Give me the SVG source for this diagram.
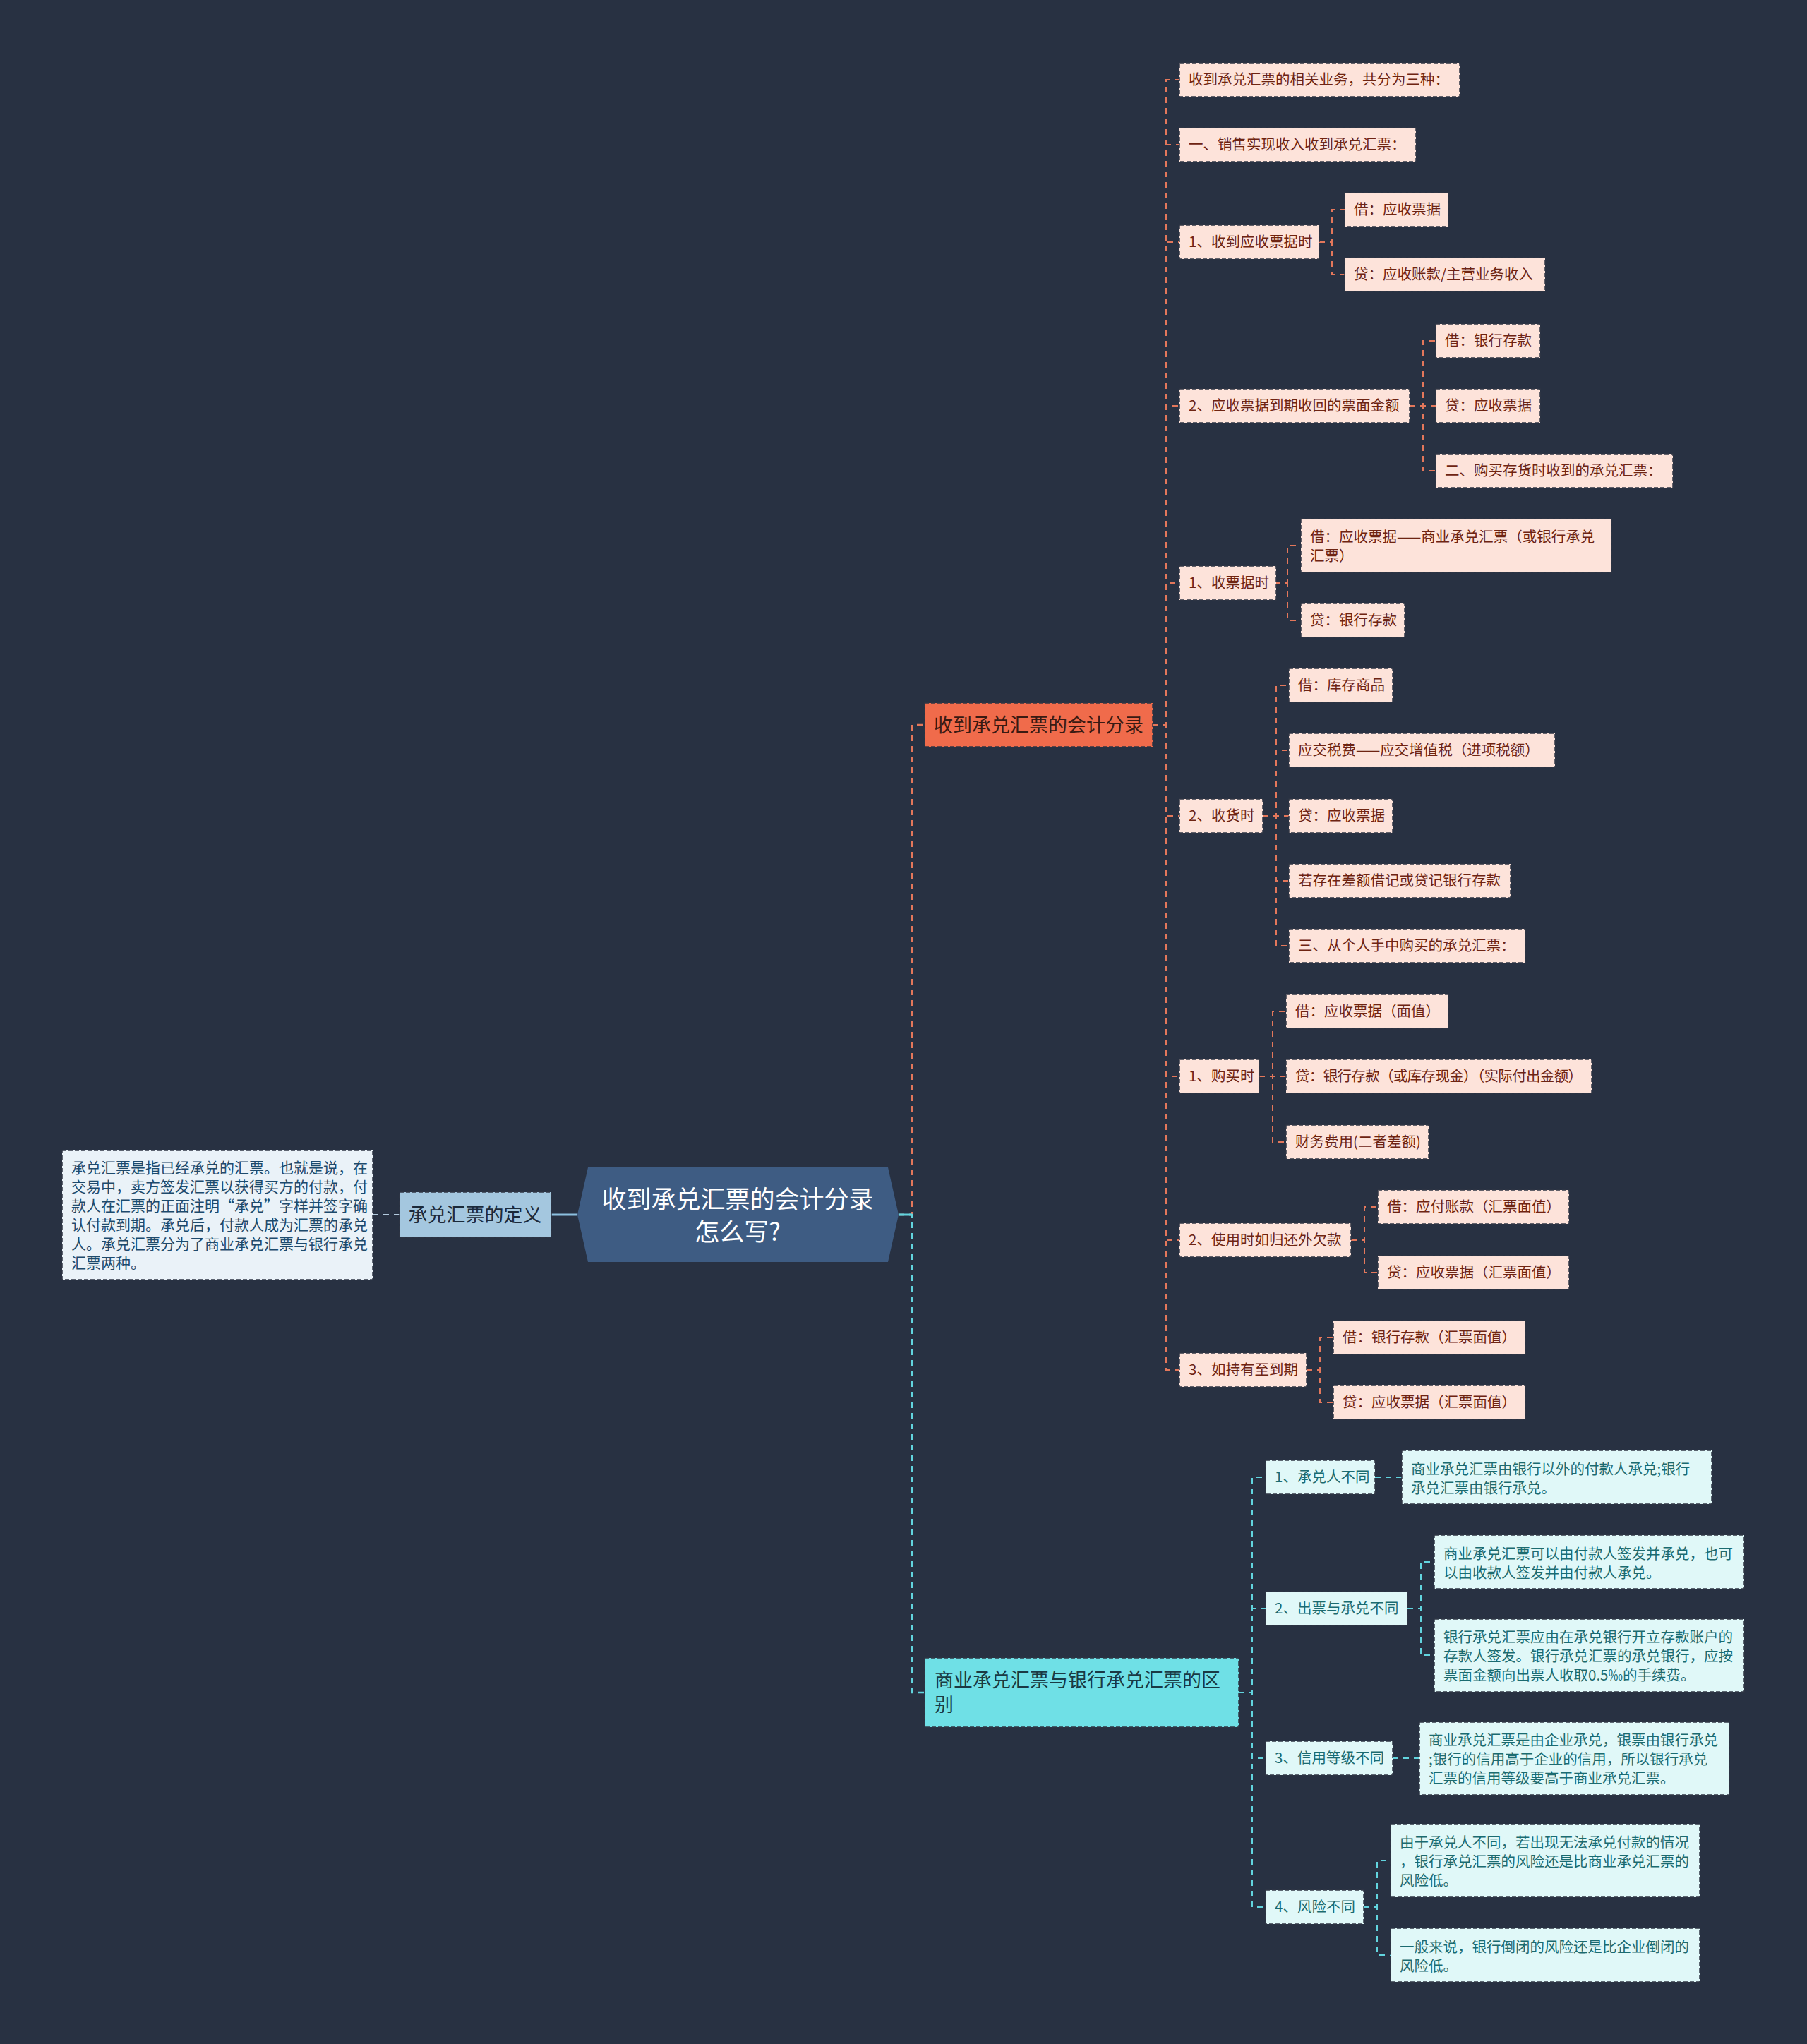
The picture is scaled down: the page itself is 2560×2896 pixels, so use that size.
<svg xmlns="http://www.w3.org/2000/svg" width="2560" height="2896" viewBox="0 0 2560 2896">
<style>
text{font-family:"Noto Sans CJK SC","Noto Sans",sans-serif;}
.bd{stroke:#2f3644;stroke-width:1.5;stroke-dasharray:6 3;}
.na{fill:#fde3da;}
.ta{fill:#6e2412;font-size:20.5px;}
.nb{fill:#e0f8f8;}
.tb{fill:#1b6b70;font-size:20.5px;}
.ca{fill:none;stroke:#e3775b;stroke-width:2;stroke-dasharray:8 7;}
.cb{fill:none;stroke:#62d4de;stroke-width:2;stroke-dasharray:8 7;}
</style>
<rect x="0" y="0" width="2560" height="2896" fill="#283142"/>
<g id="connectors">
<path d="M528,1721 H566" fill="none" stroke="#b3cadd" stroke-width="2" stroke-dasharray="8 7"/>
<path d="M781,1721 H818" fill="none" stroke="#8cc0df" stroke-width="3"/>
<path d="M1273,1721 H1292 V1027 H1310" class="ca" style="stroke-width:2.5"/>
<path d="M1273,1721 H1292 V2398 H1310" class="cb" style="stroke-width:2.5"/>
<path d="M1273,1721 H1292" fill="none" stroke="#62d4de" stroke-width="3"/>
<path d="M1633,1027 H1652 V113 H1671" class="ca"/>
<path d="M1633,1027 H1652 V205 H1671" class="ca"/>
<path d="M1633,1027 H1652 V343 H1671" class="ca"/>
<path d="M1633,1027 H1652 V575 H1671" class="ca"/>
<path d="M1633,1027 H1652 V826 H1671" class="ca"/>
<path d="M1633,1027 H1652 V1156 H1671" class="ca"/>
<path d="M1633,1027 H1652 V1525 H1671" class="ca"/>
<path d="M1633,1027 H1652 V1757 H1671" class="ca"/>
<path d="M1633,1027 H1652 V1941 H1671" class="ca"/>
<path d="M1869,343 H1887 V297 H1905" class="ca"/>
<path d="M1869,343 H1887 V389 H1905" class="ca"/>
<path d="M1997,575 H2016 V483 H2034" class="ca"/>
<path d="M1997,575 H2016 V575 H2034" class="ca"/>
<path d="M1997,575 H2016 V667 H2034" class="ca"/>
<path d="M1806,826 H1824 V773 H1843" class="ca"/>
<path d="M1806,826 H1824 V879 H1843" class="ca"/>
<path d="M1789,1156 H1808 V971 H1826" class="ca"/>
<path d="M1789,1156 H1808 V1063 H1826" class="ca"/>
<path d="M1789,1156 H1808 V1156 H1826" class="ca"/>
<path d="M1789,1156 H1808 V1248 H1826" class="ca"/>
<path d="M1789,1156 H1808 V1340 H1826" class="ca"/>
<path d="M1784,1525 H1803 V1433 H1822" class="ca"/>
<path d="M1784,1525 H1803 V1525 H1822" class="ca"/>
<path d="M1784,1525 H1803 V1618 H1822" class="ca"/>
<path d="M1914,1757 H1933 V1710 H1952" class="ca"/>
<path d="M1914,1757 H1933 V1803 H1952" class="ca"/>
<path d="M1851,1941 H1870 V1895 H1889" class="ca"/>
<path d="M1851,1941 H1870 V1987 H1889" class="ca"/>
<path d="M1755,2398 H1774 V2093 H1793" class="cb"/>
<path d="M1755,2398 H1774 V2279 H1793" class="cb"/>
<path d="M1755,2398 H1774 V2491 H1793" class="cb"/>
<path d="M1755,2398 H1774 V2702 H1793" class="cb"/>
<path d="M1948,2093 H1986" class="cb"/>
<path d="M1994,2279 H2013 V2213 H2032" class="cb"/>
<path d="M1994,2279 H2013 V2345 H2032" class="cb"/>
<path d="M1973,2491 H2011" class="cb"/>
<path d="M1932,2702 H1951 V2636 H1970" class="cb"/>
<path d="M1932,2702 H1951 V2770 H1970" class="cb"/>
</g>
<g id="root">
<polygon points="833,1654 1258,1654 1273,1721 1258,1788 833,1788 818,1721" fill="#3e5c83"/>
<text x="1045" y="1712" font-size="35" fill="#ffffff" text-anchor="middle">收到承兑汇票的会计分录</text>
<text x="1045" y="1758" font-size="35" fill="#ffffff" text-anchor="middle">怎么写?</text>
</g>
<g id="def">
<rect x="566" y="1689" width="215" height="64" fill="#a4c7df" class="bd"/>
<text x="673" y="1731" font-size="27" fill="#1b2a3a" text-anchor="middle">承兑汇票的定义</text>
</g>
<g id="def-desc">
<rect x="88" y="1630" width="440" height="183" fill="#eaf2f8" class="bd"/>
<g font-size="21" fill="#1d4a6c">
<text x="101" y="1662">承兑汇票是指已经承兑的汇票。也就是说，在</text>
<text x="101" y="1689">交易中，卖方签发汇票以获得买方的付款，付</text>
<text x="101" y="1716">款人在汇票的正面注明“承兑”字样并签字确</text>
<text x="101" y="1743">认付款到期。承兑后，付款人成为汇票的承兑</text>
<text x="101" y="1770">人。承兑汇票分为了商业承兑汇票与银行承兑</text>
<text x="101" y="1797">汇票两种。</text>
</g>
</g>
<g id="branch1">
<rect x="1310" y="996" width="323" height="62" fill="#f06b4b" class="bd"/>
<text x="1323" y="1037" font-size="27" fill="#3a1a12">收到承兑汇票的会计分录</text>
</g>
<g id="branch2">
<rect x="1310" y="2349" width="445" height="98" fill="#6fe0e6" class="bd"/>
<text x="1324" y="2390" font-size="27" fill="#1a3a44">商业承兑汇票与银行承兑汇票的区</text>
<text x="1324" y="2425" font-size="27" fill="#1a3a44">别</text>
</g>
<g id="a1"><rect x="1671" y="89" width="397" height="48" class="na bd"/><text x="1684" y="120" class="ta">收到承兑汇票的相关业务，共分为三种：</text></g>
<g id="a2"><rect x="1671" y="181" width="335" height="48" class="na bd"/><text x="1684" y="212" class="ta">一、销售实现收入收到承兑汇票：</text></g>
<g id="a3"><rect x="1671" y="319" width="198" height="48" class="na bd"/><text x="1684" y="350" class="ta">1、收到应收票据时</text></g>
<g id="a3a"><rect x="1905" y="273" width="147" height="48" class="na bd"/><text x="1918" y="304" class="ta">借：应收票据</text></g>
<g id="a3b"><rect x="1905" y="365" width="284" height="48" class="na bd"/><text x="1918" y="396" class="ta">贷：应收账款/主营业务收入</text></g>
<g id="a4"><rect x="1671" y="551" width="326" height="48" class="na bd"/><text x="1684" y="582" class="ta">2、应收票据到期收回的票面金额</text></g>
<g id="a4a"><rect x="2034" y="459" width="148" height="48" class="na bd"/><text x="2047" y="490" class="ta">借：银行存款</text></g>
<g id="a4b"><rect x="2034" y="551" width="148" height="48" class="na bd"/><text x="2047" y="582" class="ta">贷：应收票据</text></g>
<g id="a4c"><rect x="2034" y="643" width="336" height="48" class="na bd"/><text x="2047" y="674" class="ta">二、购买存货时收到的承兑汇票：</text></g>
<g id="a5"><rect x="1671" y="802" width="137" height="48" class="na bd"/><text x="1684" y="833" class="ta">1、收票据时</text></g>
<g id="a5a"><rect x="1843" y="735" width="440" height="76" class="na bd"/><text x="1856" y="768" class="ta">借：应收票据——商业承兑汇票（或银行承兑</text><text x="1856" y="795" class="ta">汇票）</text></g>
<g id="a5b"><rect x="1843" y="855" width="147" height="48" class="na bd"/><text x="1856" y="886" class="ta">贷：银行存款</text></g>
<g id="a6"><rect x="1671" y="1132" width="118" height="48" class="na bd"/><text x="1684" y="1163" class="ta">2、收货时</text></g>
<g id="a6a"><rect x="1826" y="947" width="147" height="48" class="na bd"/><text x="1839" y="978" class="ta">借：库存商品</text></g>
<g id="a6b"><rect x="1826" y="1039" width="377" height="48" class="na bd"/><text x="1839" y="1070" class="ta">应交税费——应交增值税（进项税额）</text></g>
<g id="a6c"><rect x="1826" y="1132" width="147" height="48" class="na bd"/><text x="1839" y="1163" class="ta">贷：应收票据</text></g>
<g id="a6d"><rect x="1826" y="1224" width="314" height="48" class="na bd"/><text x="1839" y="1255" class="ta">若存在差额借记或贷记银行存款</text></g>
<g id="a6e"><rect x="1826" y="1316" width="335" height="48" class="na bd"/><text x="1839" y="1347" class="ta">三、从个人手中购买的承兑汇票：</text></g>
<g id="a7"><rect x="1671" y="1501" width="113" height="48" class="na bd"/><text x="1684" y="1532" class="ta">1、购买时</text></g>
<g id="a7a"><rect x="1822" y="1409" width="230" height="48" class="na bd"/><text x="1835" y="1440" class="ta">借：应收票据（面值）</text></g>
<g id="a7b"><rect x="1822" y="1501" width="433" height="48" class="na bd"/><text x="1835" y="1532" class="ta" textLength="407" lengthAdjust="spacing">贷：银行存款（或库存现金）（实际付出金额）</text></g>
<g id="a7c"><rect x="1822" y="1594" width="202" height="48" class="na bd"/><text x="1835" y="1625" class="ta">财务费用(二者差额)</text></g>
<g id="a8"><rect x="1671" y="1733" width="243" height="48" class="na bd"/><text x="1684" y="1764" class="ta">2、使用时如归还外欠款</text></g>
<g id="a8a"><rect x="1952" y="1686" width="271" height="48" class="na bd"/><text x="1965" y="1717" class="ta">借：应付账款（汇票面值）</text></g>
<g id="a8b"><rect x="1952" y="1779" width="271" height="48" class="na bd"/><text x="1965" y="1810" class="ta">贷：应收票据（汇票面值）</text></g>
<g id="a9"><rect x="1671" y="1917" width="180" height="48" class="na bd"/><text x="1684" y="1948" class="ta">3、如持有至到期</text></g>
<g id="a9a"><rect x="1889" y="1871" width="272" height="48" class="na bd"/><text x="1902" y="1902" class="ta">借：银行存款（汇票面值）</text></g>
<g id="a9b"><rect x="1889" y="1963" width="272" height="48" class="na bd"/><text x="1902" y="1994" class="ta">贷：应收票据（汇票面值）</text></g>
<g id="b1"><rect x="1793" y="2069" width="155" height="48" class="nb bd"/><text x="1806" y="2100" class="tb">1、承兑人不同</text></g>
<g id="b1a"><rect x="1986" y="2055" width="439" height="76" class="nb bd"/><text x="1999" y="2089" class="tb">商业承兑汇票由银行以外的付款人承兑;银行</text><text x="1999" y="2116" class="tb">承兑汇票由银行承兑。</text></g>
<g id="b2"><rect x="1793" y="2255" width="201" height="48" class="nb bd"/><text x="1806" y="2286" class="tb">2、出票与承兑不同</text></g>
<g id="b2a"><rect x="2032" y="2175" width="439" height="76" class="nb bd"/><text x="2045" y="2209" class="tb">商业承兑汇票可以由付款人签发并承兑，也可</text><text x="2045" y="2236" class="tb">以由收款人签发并由付款人承兑。</text></g>
<g id="b2b"><rect x="2032" y="2294" width="439" height="103" class="nb bd"/><text x="2045" y="2327" class="tb">银行承兑汇票应由在承兑银行开立存款账户的</text><text x="2045" y="2354" class="tb">存款人签发。银行承兑汇票的承兑银行，应按</text><text x="2045" y="2381" class="tb">票面金额向出票人收取0.5‰的手续费。</text></g>
<g id="b3"><rect x="1793" y="2467" width="180" height="48" class="nb bd"/><text x="1806" y="2498" class="tb">3、信用等级不同</text></g>
<g id="b3a"><rect x="2011" y="2440" width="439" height="103" class="nb bd"/><text x="2024" y="2473" class="tb">商业承兑汇票是由企业承兑，银票由银行承兑</text><text x="2024" y="2500" class="tb">;银行的信用高于企业的信用，所以银行承兑</text><text x="2024" y="2527" class="tb">汇票的信用等级要高于商业承兑汇票。</text></g>
<g id="b4"><rect x="1793" y="2678" width="139" height="48" class="nb bd"/><text x="1806" y="2709" class="tb">4、风险不同</text></g>
<g id="b4a"><rect x="1970" y="2585" width="438" height="103" class="nb bd"/><text x="1983" y="2618" class="tb">由于承兑人不同，若出现无法承兑付款的情况</text><text x="1983" y="2645" class="tb">，银行承兑汇票的风险还是比商业承兑汇票的</text><text x="1983" y="2672" class="tb">风险低。</text></g>
<g id="b4b"><rect x="1970" y="2732" width="438" height="76" class="nb bd"/><text x="1983" y="2766" class="tb">一般来说，银行倒闭的风险还是比企业倒闭的</text><text x="1983" y="2793" class="tb">风险低。</text></g>
</svg>
